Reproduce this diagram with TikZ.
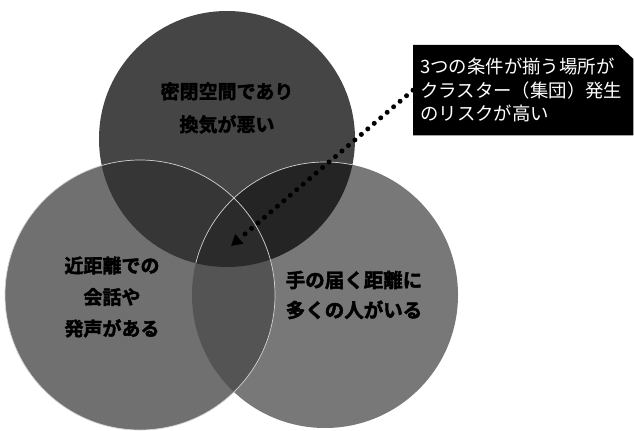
\documentclass[tikz,border=0pt]{standalone}
\usepackage{fontspec}
\newfontfamily\cjk{Noto Sans CJK JP}
\newfontfamily\cjkheavy[FakeBold=2.2]{Noto Sans CJK JP Bold}
\usetikzlibrary{arrows.meta}
\pgfdeclarelayer{background}
\pgfsetlayers{background,main}
\definecolor{cTop}{gray}{0.27}
\definecolor{cLeft}{gray}{0.44}
\definecolor{cRight}{gray}{0.47}
\definecolor{cTL}{gray}{0.21}
\definecolor{cTR}{gray}{0.14}
\definecolor{cLR}{gray}{0.33}
\definecolor{cC}{gray}{0.17}
\tikzset{
  outline/.style={draw=gray!35!white, line width=0.7pt},
  circtext/.style={text=black, align=center, inner sep=0pt},
  callout/.style={text=white, minimum width=220pt, minimum height=90pt,
    text width=206pt, align=left, inner xsep=7pt, inner ysep=0pt,
    font=\cjk\fontsize{18.4}{23.5}\selectfont},
  dotline/.style={line width=5pt, dash pattern=on 0pt off 8.5pt, line cap=round,
    -{Triangle[length=11pt,width=12pt]}}
}
\def\pathT{(227,139) circle[radius=128pt]}
\def\pathL{(140,295) circle[radius=135pt]}
\def\pathR{(325,295) circle[radius=133pt]}
\begin{document}
\begin{tikzpicture}[x=1pt,y=-1pt]
\begin{pgfonlayer}{background}
\useasboundingbox[fill=white] (0,0) rectangle (634,422);
\end{pgfonlayer}
\fill[cTop] \pathT;
\fill[cRight] \pathR;
\fill[cLeft] \pathL;
\begin{scope}\clip \pathT; \fill[cTL] \pathL; \end{scope}
\begin{scope}\clip \pathT; \fill[cTR] \pathR; \end{scope}
\begin{scope}\clip \pathL; \fill[cLR] \pathR; \end{scope}
\begin{scope}\clip \pathT; \clip \pathL; \fill[cC] \pathR; \end{scope}
\draw[outline] \pathL;
\begin{scope}\clip \pathT; \draw[outline] \pathR; \end{scope}

\node[circtext, font=\cjkheavy\fontsize{19}{33}\selectfont] (topt) at (227,108)
  {密閉空間であり\\換気が悪い};
\node[circtext, font=\cjkheavy\fontsize{19}{31.5}\selectfont] (leftt) at (112,297)
  {近距離での\\会話や\\発声がある};
\node[circtext, font=\cjkheavy\fontsize{19.5}{30}\selectfont] (rightt) at (354,295)
  {手の届く距離に\\多くの人がいる};

\node[callout, anchor=north west] (box) at (413,45)
  {3つの条件が揃う場所が\\クラスター（集団）発生\\のリスクが高い};
\begin{pgfonlayer}{background}
\fill[black] (box.south west) -- (box.north west) -- ([xshift=-15pt]box.north east)
  -- ([yshift=-14pt]box.north east) -- (box.south east) -- cycle;
\end{pgfonlayer}
\coordinate (tip) at (231,246);
\draw[dotline] (box.west) -- (tip);
\end{tikzpicture}
\end{document}
